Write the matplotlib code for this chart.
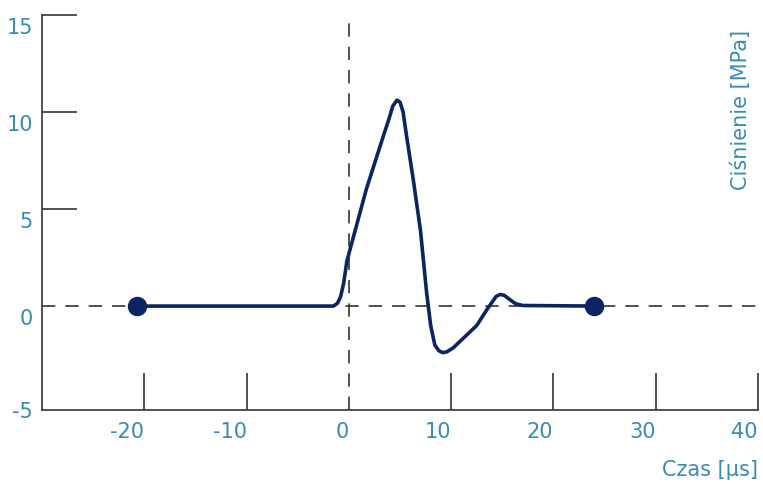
import matplotlib.pyplot as plt
from matplotlib.transforms import ScaledTranslation

# pressure pulse
czas = [-20.7, -1.5, -1.1, -0.8, -0.5, -0.2, 1.7, 3.4, 3.9, 4.3, 4.7, 5.0, 5.3, 5.6,
        6.3, 7.0, 7.6, 8.0, 8.4, 8.8, 9.2, 9.6, 10.2, 12.5, 13.6, 14.0, 14.4, 14.8,
        15.2, 15.7, 16.3, 17.0, 24.0]
cisnienie = [0.0, 0.0, 0.15, 0.5, 1.2, 2.3, 6.0, 8.8, 9.6, 10.3, 10.6, 10.5, 10.0, 8.9,
             6.5, 3.9, 0.7, -1.0, -2.0, -2.3, -2.4, -2.35, -2.15, -1.0, -0.1, 0.2, 0.5,
             0.6, 0.55, 0.35, 0.12, 0.03, 0.0]

x_ticks = [-20, -10, 10, 20, 30, 40]
y_ticks = [5, 10, 15]
y_bottom = -5.35

line_col = '#0b2462'
axis_col = '#333333'
text_col = '#3a8bb3'

fig = plt.figure(figsize=(7.63, 4.84), dpi=100)
ax = fig.add_axes([42 / 763, 1 - 410 / 484, 716 / 763, 395.3 / 484])

ax.axhline(0, color=axis_col, lw=1.2, ls=(0, (8, 6)), zorder=1)
ax.axvline(0, color=axis_col, lw=1.2, ls=(0, (8, 6)), zorder=1)

ax.plot(czas, cisnienie, color=line_col, lw=2.6, solid_joinstyle='round',
        solid_capstyle='round', zorder=3)
ax.plot([czas[0], czas[-1]], [cisnienie[0], cisnienie[-1]], 'o', color=line_col,
        ms=13, zorder=4)

ax.set_xlim(-30, 40)
ax.set_ylim(y_bottom, 15)

for s in ['top', 'right']:
    ax.spines[s].set_visible(False)
for s in ['left', 'bottom']:
    ax.spines[s].set_color(axis_col)
    ax.spines[s].set_linewidth(1.2)

ax.set_xticks(x_ticks)
ax.set_xticklabels([str(v) for v in x_ticks])
ax.set_xticks([0], ['0'], minor=True)
ax.set_yticks(y_ticks)
ax.set_yticklabels([str(v) for v in y_ticks])
ax.set_yticks([y_bottom, 0], ['-5', '0'], minor=True)

ax.tick_params(axis='x', which='major', direction='in', length=27, width=1.2,
               color=axis_col, pad=9, labelsize=15, labelcolor=text_col)
ax.tick_params(axis='x', which='minor', length=0, pad=9, labelsize=15,
               labelcolor=text_col)
ax.tick_params(axis='y', which='major', direction='in', length=25, width=1.2,
               color=axis_col, pad=6.5, labelsize=15, labelcolor=text_col)
ax.tick_params(axis='y', which='minor', length=0, pad=6.5, labelsize=15,
               labelcolor=text_col)

for lab in ax.get_xticklabels(which='both'):
    lab.set_ha('right')

shift = ScaledTranslation(0, -0.11, fig.dpi_scale_trans)
for lab in ax.get_yticklabels():
    lab.set_transform(lab.get_transform() + shift)
ax.get_yticklabels(minor=True)[1].set_transform(
    ax.get_yticklabels(minor=True)[1].get_transform() + shift)

ax.set_xlabel('Czas [µs]', fontsize=15, color=text_col, ha='right', va='center')
ax.xaxis.set_label_coords(1.0, -0.152)
ax.text(0.976, 0.961, 'Ciśnienie [MPa]', transform=ax.transAxes, rotation=90,
        ha='center', va='top', fontsize=15, color=text_col)

fig.savefig('out.png', dpi=100)
